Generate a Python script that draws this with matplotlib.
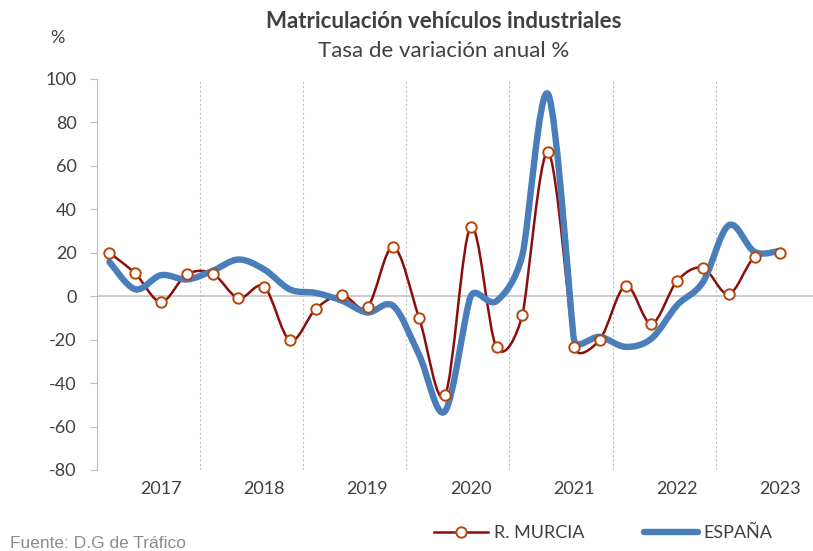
import numpy as np
import matplotlib
matplotlib.use('Agg')
from matplotlib import pyplot as plt
from matplotlib.path import Path
from matplotlib.patches import PathPatch
from matplotlib.lines import Line2D

# data (quarterly, 2017 Q1 .. 2023 Q3)
years = ['2017', '2018', '2019', '2020', '2021', '2022', '2023']
murcia = [20, 10.5, -2.6, 10, 10.4, -0.9, 4.3, -20.3,
          -5.8, 0.6, -4.9, 22.7, -10, -45.6, 31.9, -23.6,
          -8.7, 66.4, -23.4, -20, 4.8, -12.6, 7.1, 13,
          1, 18.1, 19.9]
espana = [15.8, 3.2, 9.7, 7.7, 11.7, 16.9, 12.3, 3.1,
          1.5, -2, -7.5, -4.5, -27, -53, 0, -2.2,
          19, 93, -20, -18.7, -23.3, -19.5, -4.1, 6.6,
          32.7, 20.4, 20.9]

RED = '#8B0E0E'
RED_EDGE = '#B5470B'
BLUE = '#4A7EBB'
GREY_TXT = '#404040'

plt.rcParams['font.family'] = ['Lato', 'DejaVu Sans']
plt.rcParams['axes.unicode_minus'] = False

# pixel size of one unit on each axis (used to make the smoothing look like Excel's)
PX_X = 25.81
PX_Y = 391 / 180


def smooth_path(xs, ys):
    # Excel-like smoothed line: bezier segments, arms capped at half the neighbour segment
    pts = np.column_stack([np.asarray(xs, float) * PX_X, np.asarray(ys, float) * PX_Y])
    n = len(pts)
    arms = []
    for i in range(n):
        p0 = pts[max(i - 1, 0)]
        p2 = pts[min(i + 1, n - 1)]
        t = (p2 - p0) / 6.0
        d01 = np.hypot(*(pts[i] - p0)) if i > 0 else np.inf
        d12 = np.hypot(*(p2 - pts[i])) if i < n - 1 else np.inf
        lim = min(d01, d12) / 2.0
        ln = np.hypot(*t)
        if ln > lim and ln > 0:
            t = t * lim / ln
        arms.append(t)
    verts = [pts[0]]
    codes = [Path.MOVETO]
    for i in range(n - 1):
        verts += [pts[i] + arms[i], pts[i + 1] - arms[i + 1], pts[i + 1]]
        codes += [Path.CURVE4] * 3
    verts = np.array(verts) / np.array([PX_X, PX_Y])
    return Path(verts, codes)


fig = plt.figure(figsize=(8.13, 5.51), dpi=100)
ax = fig.add_axes([96.5 / 813, 81 / 551, (813 - 96.5) / 813, 391 / 551])

x = np.arange(len(murcia))

ax.add_patch(PathPatch(smooth_path(x, murcia), fill=False, edgecolor=RED,
                       lw=1.8, zorder=3))
ax.add_patch(PathPatch(smooth_path(x, espana), fill=False, edgecolor=BLUE,
                       lw=4.6, capstyle='round', joinstyle='round', zorder=4))
ax.plot(x, murcia, ls='none', marker='o', ms=7.5, mfc='white', mec=RED_EDGE,
        mew=1.4, zorder=5)

ax.set_ylim(-80, 100)
ax.set_xlim(-0.5, -0.5 + (813 - 96.5) / PX_X)
ax.set_yticks(np.arange(-80, 101, 20))
ax.tick_params(axis='y', length=4.8, width=0.8, color='#BFBFBF',
               labelsize=13, labelcolor=GREY_TXT, pad=9.5)

ax.set_xticks(np.arange(2, len(murcia), 4))
ax.set_xticklabels(years)
ax.tick_params(axis='x', length=0, labelsize=13, labelcolor=GREY_TXT, pad=8)

# year separators and zero line
for b in np.arange(3.5, 24, 4):
    ax.axvline(b, color='#BFBFBF', lw=0.8, ls=(0, (2, 2)), zorder=1)
ax.axhline(0, color='#C8C8C8', lw=1.3, zorder=1)

for s in ['top', 'right', 'bottom']:
    ax.spines[s].set_visible(False)
ax.spines['left'].set_color('#BFBFBF')
ax.spines['left'].set_linewidth(0.8)

fig.text(444 / 813, 1 - 21 / 551, 'Matriculación vehículos industriales',
         ha='center', va='center', fontsize=16, fontweight='bold', color=GREY_TXT)
fig.text(444 / 813, 1 - 51 / 551, 'Tasa de variación anual %',
         ha='center', va='center', fontsize=16, color=GREY_TXT)
fig.text(57 / 813, 1 - 38 / 551, '%', ha='center', va='center',
         fontsize=13, color=GREY_TXT)
fig.text(10 / 813, 1 - 543 / 551, 'Fuente: D.G de Tráfico', ha='left',
         va='center', fontsize=12.5, color='#8C8C8C', family='Liberation Sans')

handles = [Line2D([], [], color=RED, lw=1.8, marker='o', ms=7.5, mfc='white',
                  mec=RED_EDGE, mew=1.4),
           Line2D([], [], color=BLUE, lw=4.6, solid_capstyle='round')]
fig.legend(handles, ['R. MURCIA', 'ESPAÑA'], loc='center',
           bbox_to_anchor=(603 / 813, 1 - 533 / 551), ncol=2, frameon=False,
           fontsize=13, handlelength=3.0, handletextpad=0.3,
           columnspacing=3.3, labelcolor=GREY_TXT)

fig.savefig('out.png', dpi=100)
